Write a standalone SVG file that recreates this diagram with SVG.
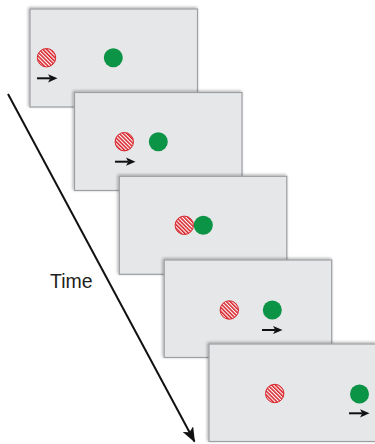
<svg xmlns="http://www.w3.org/2000/svg" width="375" height="444" viewBox="0 0 375 444">
<defs>
<style>
.panel{fill:#e6e7e8;stroke:#9d9fa2;stroke-width:1.2}
.green{fill:#0b9346}
.red{fill:url(#stripes);stroke:#d8232a;stroke-width:1}
.mv{stroke:#111;stroke-width:2;fill:none}
.mh{fill:#111}
.time{font-family:"Liberation Sans",Arial,sans-serif;font-size:19.5px;fill:#231f20}
</style>
<pattern id="stripes" patternUnits="userSpaceOnUse" width="2.7" height="2.7" patternTransform="rotate(-45)">
<rect width="2.7" height="2.7" fill="#ffffff"/>
<rect width="1.55" height="2.7" fill="#d8232a"/>
</pattern>
<filter id="sh" x="-10%" y="-10%" width="120%" height="120%">
<feGaussianBlur in="SourceAlpha" stdDeviation="1.6"/>
<feOffset dx="-1" dy="-1" result="b"/>
<feComponentTransfer><feFuncA type="linear" slope="0.35"/></feComponentTransfer>
<feMerge><feMergeNode/><feMergeNode in="SourceGraphic"/></feMerge>
</filter>
<marker id="timeHead" viewBox="0 0 15 12" refX="14" refY="6" markerWidth="15" markerHeight="12" markerUnits="userSpaceOnUse" orient="auto">
<path d="M0,0 L15,6 L0,12 L3.5,6 Z" fill="#111"/>
</marker>
</defs>
<rect width="375" height="444" fill="#ffffff"/>

<g id="panel1">
<rect class="panel" x="30" y="9" width="167.5" height="98" filter="url(#sh)"/>
<circle class="red" cx="46.5" cy="57.7" r="9.2"/>
<circle class="green" cx="113.3" cy="57.7" r="9.5"/>
<line class="mv" x1="37" y1="78.3" x2="50" y2="78.3"/>
<path class="mh" d="M57.5,78.3 L48,74.2 L50.3,78.3 L48,82.4 Z"/>
</g>

<g id="panel2">
<rect class="panel" x="74.5" y="92.5" width="167.5" height="98" filter="url(#sh)"/>
<circle class="red" cx="124.3" cy="141.7" r="9.2"/>
<circle class="green" cx="158.3" cy="141.7" r="9.5"/>
<line class="mv" x1="115" y1="161.7" x2="128" y2="161.7"/>
<path class="mh" d="M135.5,161.7 L126,157.6 L128.3,161.7 L126,165.8 Z"/>
</g>

<g id="panel3">
<rect class="panel" x="119.3" y="176.3" width="167.5" height="98" filter="url(#sh)"/>
<circle class="red" cx="184.3" cy="225.3" r="9.2"/>
<circle class="green" cx="203.3" cy="225.3" r="9.5"/>
</g>

<g id="panel4">
<rect class="panel" x="164.2" y="260" width="167.5" height="97.5" filter="url(#sh)"/>
<circle class="red" cx="229.3" cy="310" r="9.2"/>
<circle class="green" cx="272.3" cy="310" r="9.5"/>
<line class="mv" x1="262" y1="330" x2="275" y2="330"/>
<path class="mh" d="M282.5,330 L273,325.9 L275.3,330 L273,334.1 Z"/>
</g>

<g id="panel5">
<rect class="panel" x="209" y="344" width="167.5" height="97.5" filter="url(#sh)"/>
<circle class="red" cx="274.7" cy="393.5" r="9.2"/>
<circle class="green" cx="359.5" cy="394" r="9.5"/>
<line class="mv" x1="349" y1="413.3" x2="362" y2="413.3"/>
<path class="mh" d="M369.5,413.3 L360,409.2 L362.3,413.3 L360,417.4 Z"/>
</g>

<g id="connectors">
<line x1="8" y1="94" x2="194.5" y2="441.5" stroke="#111" stroke-width="2" marker-end="url(#timeHead)"/>
</g>

<g id="label-time">
<text class="time" x="50" y="287.5">Time</text>
</g>
</svg>
